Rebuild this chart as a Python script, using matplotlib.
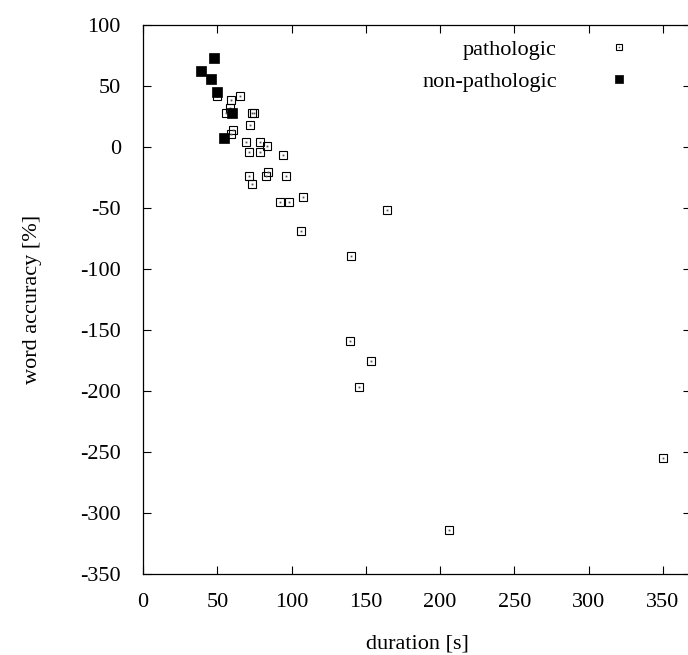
"""Word accuracy vs. recording duration, pathologic vs. non-pathologic speakers."""
import matplotlib
matplotlib.use("Agg")
import matplotlib.pyplot as plt
from matplotlib.legend_handler import HandlerTuple

plt.rcParams["font.family"] = ["Liberation Serif", "DejaVu Serif"]
plt.rcParams["font.size"] = 16

# data
path_dur = [49.9, 58.9, 65.1, 58.4, 55.9, 73.2, 74.8, 72.1, 60.4, 59.3, 69.2,
            78.8, 83.5, 71.0, 78.6, 93.9, 71.4, 73.4, 84.0, 82.6, 96.1, 92.1,
            98.1, 107.5, 106.4, 164.3, 140.3, 139.2, 153.3, 145.2, 206.0, 350.3]
path_acc = [41.6, 38.3, 41.6, 31.5, 27.9, 27.9, 27.9, 17.5, 13.9, 10.2, 3.9,
            3.9, 0.3, -4.1, -4.1, -7.0, -24.0, -30.8, -20.7, -24.0, -24.0, -45.1,
            -45.1, -41.5, -68.9, -51.6, -89.6, -159.0, -175.9, -196.7, -314.0, -255.2]
norm_dur = [47.8, 39.1, 45.8, 49.5, 60.0, 54.6]
norm_acc = [72.5, 62.0, 55.5, 44.6, 27.4, 6.9]

xticks = [0, 50, 100, 150, 200, 250, 300, 350]
yticks = [100, 50, 0, -50, -100, -150, -200, -250, -300, -350]

fig = plt.figure(figsize=(6.88, 6.55), dpi=100)
ax = fig.add_axes([0.2081, 0.1241, 0.7963, 0.8382])

box, = ax.plot(path_dur, path_acc, "s", ls="none", ms=6.2, mfc="none",
               mec="black", mew=0.8)
dot, = ax.plot(path_dur, path_acc, "s", ls="none", ms=1.3, mfc="#555555",
               mec="none")
full, = ax.plot(norm_dur, norm_acc, "s", ls="none", ms=6.5, mfc="black",
                mec="black", mew=0.5)

ax.set_xlim(0, 369)
ax.set_ylim(-350, 100)
ax.set_xticks(xticks)
ax.set_yticks(yticks)
ax.set_yticklabels([str(v) for v in yticks])
ax.tick_params(direction="in", length=5.8, width=0.8, top=True, right=True,
               labelsize=16)
ax.tick_params(axis="x", pad=14)
ax.tick_params(axis="y", pad=16)
for s in ax.spines.values():
    s.set_linewidth(0.9)

ax.set_xlabel("duration [s]", fontsize=16)
ax.xaxis.set_label_coords(0.5, -0.128)
ax.xaxis.label.set_va("center")
ax.set_ylabel("word accuracy [%]", fontsize=16)
ax.yaxis.set_label_coords(-0.202, 0.5)
ax.yaxis.label.set_va("center")

ax.legend([(box, dot), full], ["pathologic", "non-pathologic"],
          handler_map={tuple: HandlerTuple(ndivide=1, pad=0)},
          loc="upper right", bbox_to_anchor=(0.9097, 0.9727), frameon=False,
          markerfirst=False, numpoints=1, handlelength=2.0, handletextpad=1.82,
          borderpad=0, borderaxespad=0, labelspacing=0.51, markerscale=0.8,
          fontsize=16)

plt.savefig("out.png", dpi=100)
plt.close()
